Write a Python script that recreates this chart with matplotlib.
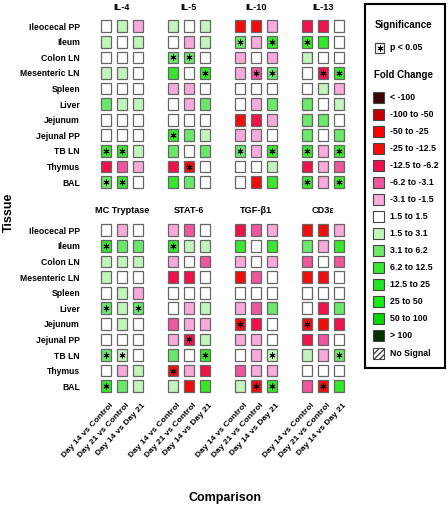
import numpy as np
import matplotlib.pyplot as plt
from matplotlib.colors import ListedColormap, BoundaryNorm
from matplotlib.patches import Rectangle
from matplotlib.transforms import ScaledTranslation

plt.rcParams['font.family'] = ['Liberation Sans', 'DejaVu Sans']
plt.rcParams['font.weight'] = 'bold'

tissues = ['Ileocecal PP', 'Ileum', 'Colon LN', 'Mesenteric LN', 'Spleen', 'Liver',
           'Jejunum', 'Jejunal PP', 'TB LN', 'Thymus', 'BAL']
comparisons = ['Day 14 vs Control', 'Day 21 vs Control', 'Day 14 vs Day 21']
genes = ['IL-4', 'IL-5', 'IL-10', 'IL-13', 'MC Tryptase', 'STAT-6', 'TGF-β1', 'CD3ε']

fold_bounds = [-1e6, -100, -50, -25, -12.5, -6.2, -3.1, -1.5, 1.5, 3.1, 6.2, 12.5, 25, 50, 100, 1e6]
fold_labels = ['< -100', '-100 to -50', '-50 to -25', '-25 to -12.5', '-12.5 to -6.2',
               '-6.2 to -3.1', '-3.1 to -1.5', '1.5 to 1.5', '1.5 to 3.1', '3.1 to 6.2',
               '6.2 to 12.5', '12.5 to 25', '25 to 50', '50 to 100', '> 100']
fold_colors = ['#3d0505', '#c40000', '#ff0000', '#f20c0c', '#f0104a', '#f0569e', '#f8aadc',
               '#ffffff', '#c2f5bb', '#6ae86a', '#38e62a', '#22e622', '#12ee12', '#00d800', '#003300']

# fold change per tissue (rows) and comparison (cols)
il4_fold = [[1, 2, -2], [2, 1, 2], [1, 1, 1], [2, 2, 1], [1, 1, 1], [4, 2, 2],
            [1, 1, 1], [1, 1, 1], [8, 8, 2], [-8, -4, -2], [4, 8, 1]]
il5_fold = [[2, 1, 2], [1, -2, 2], [4, 4, 1], [8, 1, 8], [-2, -2, 1], [1, -2, 4],
            [1, 1, 1], [8, 4, 2], [4, 1, 4], [-8, -20, 1], [8, 4, 1]]
il10_fold = [[-20, -20, -2], [4, -2, 8], [-2, 1, -2], [-2, -5, 4], [1, 1, 1], [1, -2, 4],
             [-20, -8, -2], [-2, -2, 1], [4, -2, 8], [1, 1, 2], [1, -20, 8]]
il13_fold = [[-8, -8, 1], [8, 8, 1], [2, 1, 1], [1, -8, 8], [1, 2, -2], [4, 1, 2],
             [4, 4, 1], [4, 1, 4], [8, -2, 8], [-8, -2, -4], [8, -2, 8]]
mc_fold = [[1, -2, 1], [8, 4, 4], [2, 2, 2], [2, 1, 1], [1, 2, -2], [4, 2, 4],
           [1, 2, 1], [1, 1, 1], [4, 2, 1], [1, -2, 2], [8, 4, 2]]
stat6_fold = [[-2, -4, 1], [8, 2, 2], [-2, 1, -4], [-8, -8, 1], [1, 1, 1], [1, -2, 2],
              [-4, -2, -2], [-2, -8, 2], [4, 1, 8], [-20, -2, -8], [2, -20, 8]]
tgf_fold = [[-8, -4, -2], [8, 1, 8], [-2, 1, -2], [-20, -4, 1], [1, 1, 1], [-2, -4, 4],
            [-20, -8, 1], [-2, -2, 1], [1, -2, 2], [-4, -2, -2], [2, -20, 8]]
cd3_fold = [[-20, -20, -2], [4, -2, 8], [-4, 1, -4], [-20, -20, 1], [1, 1, 1], [1, -8, 4],
            [-20, -20, -8], [-8, -4, 1], [2, -2, 4], [1, 1, 1], [-4, -20, 8]]

# significant cells (row, col)
il4_sig = [(8, 0), (8, 1), (10, 0), (10, 1)]
il5_sig = [(2, 0), (2, 1), (3, 2), (7, 0), (9, 1)]
il10_sig = [(1, 0), (1, 2), (3, 1), (3, 2), (8, 0), (8, 2)]
il13_sig = [(1, 0), (3, 1), (3, 2), (8, 0), (8, 2), (10, 0), (10, 2)]
mc_sig = [(1, 0), (5, 0), (5, 2), (8, 0), (8, 1), (10, 0)]
stat6_sig = [(1, 0), (7, 1), (8, 2), (9, 0)]
tgf_sig = [(6, 0), (8, 2), (10, 1), (10, 2)]
cd3_sig = [(6, 0), (8, 2), (10, 1)]

folds = [il4_fold, il5_fold, il10_fold, il13_fold, mc_fold, stat6_fold, tgf_fold, cd3_fold]
sigs = [il4_sig, il5_sig, il10_sig, il13_sig, mc_sig, stat6_sig, tgf_sig, cd3_sig]

cmap = ListedColormap(fold_colors)
norm = BoundaryNorm(fold_bounds, cmap.N)

W, H = 448, 509
fig = plt.figure(figsize=(W / 100, H / 100), dpi=100)

col_left = [98, 165, 232, 299]
row_top = [18.4, 222.5]
pw, ph = 48, 171.5

for k in range(8):
    r, c = divmod(k, 4)
    ax = fig.add_axes([col_left[c] / W, 1 - (row_top[r] + ph) / H, pw / W, ph / H])
    vals = np.array(folds[k], dtype=float)
    rr, cc = np.meshgrid(np.arange(11), np.arange(3), indexing='ij')
    ax.bar(cc.ravel(), 0.75, bottom=rr.ravel() - 0.375, width=0.62,
           color=cmap(norm(vals.ravel())), edgecolor='#666666', linewidth=0.9)
    srow, scol = zip(*sigs[k])
    ax.scatter(scol, srow, marker=(6, 2, 0), s=14, c='black', linewidths=0.7, zorder=3)
    ax.set_xlim(-0.5, 2.5)
    ax.set_ylim(10.5, -0.5)
    for sp in ax.spines.values():
        sp.set_visible(False)
    ax.set_title(genes[k], fontsize=6.6, fontweight='bold', pad=6 if r == 0 else 7)
    ax.tick_params(length=0)
    if c == 0:
        ax.set_yticks(range(11))
        ax.set_yticklabels(tissues, fontsize=6.2, fontweight='bold')
        ax.tick_params(axis='y', pad=13)
    else:
        ax.set_yticks([])
    if r == 1:
        ax.set_xticks(range(3))
        ax.set_xticklabels(comparisons, fontsize=6, fontweight='bold', rotation=47,
                           ha='right', va='top', rotation_mode='anchor')
        ax.tick_params(axis='x', pad=6)
        for lab in ax.get_xticklabels():
            lab.set_transform(lab.get_transform() + ScaledTranslation(0.04, 0, fig.dpi_scale_trans))
    else:
        ax.set_xticks([])

fig.text(9 / W, 1 - 212 / H, 'Tissue', rotation=90, fontsize=9, fontweight='bold',
         ha='center', va='center')
fig.text(225 / W, 1 - 498 / H, 'Comparison', fontsize=9, fontweight='bold',
         ha='center', va='center')

# legend box (pixel units inside)
lx, ly, lw_, lh = 365, 4, 80, 364
lax = fig.add_axes([lx / W, 1 - (ly + lh) / H, lw_ / W, lh / H])
lax.set_xlim(0, lw_)
lax.set_ylim(lh, 0)
lax.set_xticks([])
lax.set_yticks([])
for sp in lax.spines.values():
    sp.set_linewidth(1.5)
lax.text(38, 21, 'Significance', fontsize=7, fontweight='bold', ha='center', va='center')
lax.add_patch(Rectangle((10, 39), 9, 10, facecolor='white', edgecolor='#444444', lw=0.9))
lax.scatter([14.5], [44], marker=(6, 2, 0), s=14, c='black', linewidths=0.7)
lax.text(25, 44, 'p < 0.05', fontsize=6.3, fontweight='bold', va='center')
lax.text(38, 71, 'Fold Change', fontsize=7, fontweight='bold', ha='center', va='center')
for i, (lab, col) in enumerate(zip(fold_labels + ['No Signal'], fold_colors + [None])):
    yc = 93 + 17.07 * i
    if col is None:
        lax.add_patch(Rectangle((8, yc - 5.5), 11, 11, facecolor='white', edgecolor='#444444',
                                hatch='//////', lw=0.8))
    else:
        lax.add_patch(Rectangle((8, yc - 5.5), 11, 11, facecolor=col, edgecolor='#444444', lw=0.8))
    lax.text(25, yc, lab, fontsize=6.3, fontweight='bold', va='center')

fig.savefig('out.png', dpi=100)
